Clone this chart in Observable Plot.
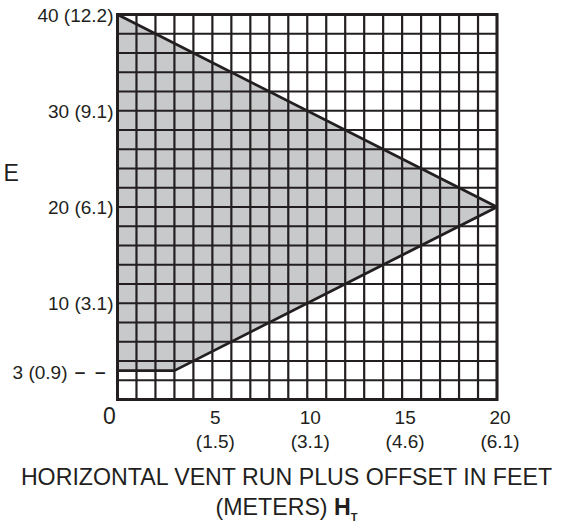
<!DOCTYPE html>
<html>
<head>
<meta charset="utf-8">
<script src="https://cdn.jsdelivr.net/npm/d3@7"></script>
<script src="https://cdn.jsdelivr.net/npm/@observablehq/plot@0.6"></script>
<style>
  html, body { margin: 0; padding: 0; background: #ffffff; }
  #wrap { width: 573px; font-family: "Liberation Sans", Arial, sans-serif; color: #231f20; }
  #title { width: 573px; text-align: center; font-size: 23.2px; line-height: 30px; }
  #title .sub { font-size: 11px; font-weight: bold; position: relative; top: 6px; }
</style>
</head>
<body>
<div id="wrap">
  <div id="chart"></div>
  <div id="title">HORIZONTAL VENT RUN PLUS OFFSET IN FEET<br>(METERS) <b>H</b><span class="sub">T</span></div>
</div>
<script>
// ---- data ----
const xTicks = [5, 10, 15, 20];
const xTickMeters = ["(1.5)", "(3.1)", "(4.6)", "(6.1)"];
const yTicks = [40, 30, 20, 10, 3];
const yTickLabels = ["40 (12.2)", "30 (9.1)", "20 (6.1)", "10 (3.1)", "3 (0.9)"];
const gridX = d3.range(0, 21, 1);
const gridY = d3.range(0, 41, 2);
// allowed region: lower bound (min height) and upper bound (max height)
const regionX = [0, 3, 20];
const regionLow = [3, 3, 20];
const regionHigh = [40, 37, 20];
// outline of the region
const outlineX = [0, 20, 3, 0];
const outlineY = [40, 20, 3, 3];
const leftLabel = "E";

const ink = "#231f20";
const region = regionX.map((x, i) => ({x, lo: regionLow[i], hi: regionHigh[i]}));
const outline = outlineX.map((x, i) => ({x, y: outlineY[i]}));
const yLab = yTicks.map((v, i) => ({v, label: yTickLabels[i]}));
const xLab = xTicks.map((v, i) => ({v, m: xTickMeters[i]}));

const chart = Plot.plot({
  width: 573,
  height: 462,
  marginLeft: 117,
  marginRight: 76.5,
  marginTop: 14,
  marginBottom: 63,
  style: {fontFamily: "'Liberation Sans', Arial, sans-serif", background: "#ffffff", overflow: "visible"},
  x: {domain: [0, 20], axis: null},
  y: {domain: [0, 40], axis: null},
  marks: [
    Plot.areaY(region, {x: "x", y1: "lo", y2: "hi", fill: "#c8c9cb"}),
    Plot.ruleX(gridX, {stroke: ink, strokeWidth: 2.2}),
    Plot.ruleY(gridY, {stroke: ink, strokeWidth: 2.2}),
    Plot.frame({stroke: ink, strokeWidth: 3}),
    Plot.line(outline, {x: "x", y: "y", stroke: ink, strokeWidth: 2.8, strokeLinejoin: "miter"}),
    // y tick labels
    Plot.text(yLab, {x: 0, y: "v", text: "label", textAnchor: "end", dx: -4, dy: 1, fontSize: 19, fill: ink,
      filter: d => d.v !== 3}),
    Plot.text(yLab, {x: 0, y: "v", text: "label", textAnchor: "end", dx: -50, dy: 2, fontSize: 19, fill: ink,
      filter: d => d.v === 3}),
    Plot.text(yLab, {x: 0, y: "v", text: () => "\u2013\u2002\u2013", textAnchor: "end", dx: -12, dy: 1, fontSize: 19, fontWeight: "bold", fill: ink,
      filter: d => d.v === 3}),
    // x tick labels
    Plot.text(["0"], {x: 0, y: 0, text: d => d, textAnchor: "middle", lineAnchor: "bottom", dx: -8, dy: 24, fontSize: 23, fill: ink}),
    Plot.text(xLab, {x: "v", y: 0, text: d => String(d.v), textAnchor: "middle", lineAnchor: "bottom", dx: 3, dy: 24, fontSize: 19, fill: ink}),
    Plot.text(xLab, {x: "v", y: 0, text: "m", textAnchor: "middle", lineAnchor: "bottom", dx: 3, dy: 48, fontSize: 19, fill: ink}),
    // cut-off vertical axis title remnant
    Plot.text([leftLabel], {frameAnchor: "top-left", text: d => d, textAnchor: "start", lineAnchor: "bottom", dx: -114, dy: 166, fontSize: 23, fill: ink})
  ]
});
document.getElementById("chart").appendChild(chart);
</script>
</body>
</html>
